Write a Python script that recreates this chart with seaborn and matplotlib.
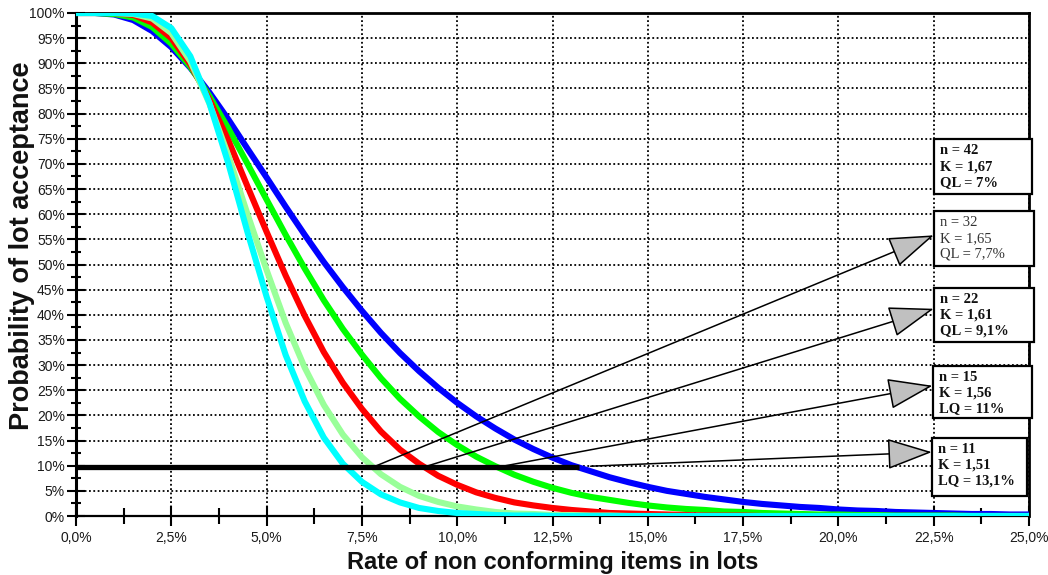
import matplotlib
matplotlib.use("Agg")
import matplotlib.pyplot as plt
from matplotlib.patches import Rectangle, FancyArrowPatch, ArrowStyle
from matplotlib.ticker import MultipleLocator, FuncFormatter
import seaborn as sns
import pandas as pd

# ---------------- data ----------------
rate_pct = [0.0, 0.5, 1.0, 1.5, 2.0, 2.5, 3.0, 3.5, 4.0, 4.5, 5.0,
            5.5, 6.0, 6.5, 7.0, 7.5, 8.0, 8.5, 9.0, 9.5, 10.0,
            10.5, 11.0, 11.5, 12.0, 12.5, 13.0, 13.5, 14.0, 14.5, 15.0,
            15.5, 16.0, 16.5, 17.0, 17.5, 18.0, 18.5, 19.0, 19.5, 20.0,
            20.5, 21.0, 21.5, 22.0, 22.5, 23.0, 23.5, 24.0, 24.5, 25.0]

pa_n11 = [100.0, 100.0, 99.7, 98.6, 96.4, 93.2, 89.1, 84.2, 78.8, 73.0, 67.3,
          61.5, 55.9, 50.5, 45.5, 40.8, 36.4, 32.4, 28.8, 25.5, 22.5,
          19.8, 17.4, 15.2, 13.3, 11.6, 10.1, 8.9, 7.7, 6.7, 5.8,
          5.0, 4.4, 3.8, 3.3, 2.8, 2.4, 2.1, 1.8, 1.6, 1.3,
          1.1, 1.0, 0.8, 0.7, 0.6, 0.5, 0.4, 0.4, 0.3, 0.3]
pa_n15 = [100.0, 100.0, 99.8, 99.1, 97.2, 93.9, 89.3, 83.5, 77.0, 70.0, 62.9,
          55.9, 49.2, 42.9, 37.2, 32.1, 27.4, 23.3, 19.8, 16.7, 14.1,
          11.8, 9.9, 8.2, 6.8, 5.6, 4.6, 3.8, 3.2, 2.6, 2.1,
          1.7, 1.4, 1.2, 0.9, 0.8, 0.6, 0.5, 0.4, 0.3, 0.3,
          0.2, 0.2, 0.1, 0.1, 0.1, 0.1, 0.0, 0.0, 0.0, 0.0]
pa_n22 = [100.0, 100.0, 100.0, 99.6, 98.1, 95.0, 89.8, 82.8, 74.6, 65.5, 56.5,
          47.8, 39.8, 32.6, 26.5, 21.3, 16.8, 13.2, 10.4, 8.0, 6.2,
          4.7, 3.6, 2.7, 2.1, 1.6, 1.2, 0.9, 0.6, 0.5, 0.4,
          0.3, 0.2, 0.1, 0.1, 0.1, 0.0, 0.0, 0.0, 0.0, 0.0,
          0.0, 0.0, 0.0, 0.0, 0.0, 0.0, 0.0, 0.0, 0.0, 0.0]
pa_n32 = [100.0, 100.0, 100.0, 99.8, 98.9, 96.0, 90.4, 82.0, 71.6, 60.0, 48.9,
          38.4, 29.5, 22.1, 16.2, 11.7, 8.3, 5.8, 4.0, 2.8, 1.9,
          1.3, 0.8, 0.5, 0.4, 0.2, 0.2, 0.1, 0.1, 0.0, 0.0,
          0.0, 0.0, 0.0, 0.0, 0.0, 0.0, 0.0, 0.0, 0.0, 0.0,
          0.0, 0.0, 0.0, 0.0, 0.0, 0.0, 0.0, 0.0, 0.0, 0.0]
pa_n42 = [100.0, 100.0, 100.0, 99.9, 99.4, 97.0, 91.4, 82.1, 70.0, 56.4, 43.6,
          32.0, 22.8, 15.6, 10.4, 6.8, 4.3, 2.7, 1.6, 1.0, 0.6,
          0.4, 0.2, 0.1, 0.1, 0.0, 0.0, 0.0, 0.0, 0.0, 0.0,
          0.0, 0.0, 0.0, 0.0, 0.0, 0.0, 0.0, 0.0, 0.0, 0.0,
          0.0, 0.0, 0.0, 0.0, 0.0, 0.0, 0.0, 0.0, 0.0, 0.0]

plans = ["n = 11", "n = 15", "n = 22", "n = 32", "n = 42"]
plan_colors = ["#0000FF", "#00FF00", "#FF0000", "#99FF99", "#00FFFF"]

# 10 % acceptance level line and where each curve crosses it
level_pct = 9.7
level_line_end = 13.2
crossing_rate = [13.5, 11.2, 9.2, 7.85]          # n=11, n=15, n=22, n=32

box_texts = ["n = 42\nK = 1,67\nQL = 7%",
             "n = 32\nK = 1,65\nQL = 7,7%",
             "n = 22\nK = 1,61\nQL = 9,1%",
             "n = 15\nK = 1,56\nLQ = 11%",
             "n = 11\nK = 1,51\nLQ = 13,1%"]

x_label = "Rate of non conforming items in lots"
y_label = "Probability of lot acceptance"

# ---------------- figure ----------------
sns.set_style("white")
plt.rcParams["font.family"] = ["Liberation Sans", "DejaVu Sans"]

df = pd.concat([pd.DataFrame({"rate": rate_pct, "pa": v, "plan": p})
                for p, v in zip(plans, [pa_n11, pa_n15, pa_n22, pa_n32, pa_n42])],
               ignore_index=True)

fig = plt.figure(figsize=(10.48, 5.75), dpi=100)
ax = fig.add_axes([0.0725, 0.1026, 0.9094, 0.8748])

sns.lineplot(data=df, x="rate", y="pa", hue="plan", hue_order=plans,
             palette=dict(zip(plans, plan_colors)), linewidth=4.4,
             legend=False, ax=ax, zorder=3, estimator=None, sort=False)

ax.set_xlim(0, 25)
ax.set_ylim(0, 100)

# grid and ticks
ax.xaxis.set_major_locator(MultipleLocator(2.5))
ax.xaxis.set_minor_locator(MultipleLocator(1.25))
ax.yaxis.set_major_locator(MultipleLocator(5))
ax.yaxis.set_minor_locator(MultipleLocator(2.5))
ax.xaxis.set_major_formatter(FuncFormatter(lambda v, _: f"{v:.1f}%".replace(".", ",")))
ax.yaxis.set_major_formatter(FuncFormatter(lambda v, _: f"{v:.0f}%"))
ax.set_axisbelow(True)
ax.grid(True, which="major", color="black", linestyle=(0, (1, 1.4)), linewidth=1.3)

ax.tick_params(axis="x", which="both", bottom=True, top=False)
ax.tick_params(axis="y", which="both", left=True, right=False)
ax.tick_params(axis="x", which="major", direction="inout", length=15, width=1.5,
               labelsize=10, pad=3, color="black", labelcolor="#1a1a1a")
ax.tick_params(axis="x", which="minor", direction="inout", length=11, width=1.5,
               color="black")
ax.tick_params(axis="y", which="major", direction="inout", length=13, width=1.5,
               labelsize=10, pad=1.5, color="black", labelcolor="#1a1a1a")
ax.tick_params(axis="y", which="minor", direction="inout", length=7, width=1.5,
               color="black")

for side, lw in [("left", 2.2), ("bottom", 1.6), ("top", 2.0), ("right", 2.0)]:
    ax.spines[side].set_visible(True)
    ax.spines[side].set_color("black")
    ax.spines[side].set_linewidth(lw)

ax.set_xlabel(x_label, fontsize=17, fontweight="bold", color="#111111")
ax.set_ylabel(y_label, fontsize=19.5, fontweight="bold", color="#111111")
ax.xaxis.set_label_coords(0.5, -0.093)
ax.xaxis.label.set_verticalalignment("center")
ax.yaxis.set_label_coords(-0.057, 0.537)
ax.yaxis.label.set_verticalalignment("center")

# 10 % level line
ax.plot([0, level_line_end], [level_pct, level_pct], color="black",
        linewidth=3.8, solid_capstyle="butt", zorder=5)

# annotation boxes (positions in data units)
box_geom = [(22.5, 64.1, 2.57, 10.8),
            (22.5, 49.8, 2.62, 10.8),
            (22.5, 34.5, 2.62, 10.9),
            (22.47, 19.5, 2.6, 10.4),
            (22.45, 4.0, 2.5, 11.5)]
box_weight = ["bold", "normal", "bold", "bold", "bold"]
for (bx, by, bw, bh), txt, wt in zip(box_geom, box_texts, box_weight):
    ax.add_patch(Rectangle((bx, by), bw, bh, facecolor="white", edgecolor="black",
                           linewidth=1.6, zorder=8, clip_on=False))
    ax.text(bx + 0.16, by + bh - 1.0, txt, ha="left", va="top", fontsize=10.5,
            fontweight=wt, family=["Liberation Serif", "DejaVu Serif"],
            color="#111111" if wt == "bold" else "#333333",
            linespacing=1.28, zorder=9, clip_on=False)

# arrows from the crossings to the boxes (n=11, n=15, n=22, n=32)
arrow_tips = [(22.45, 12.7), (22.47, 25.9), (22.5, 41.2), (22.5, 55.8)]
head = ArrowStyle("-|>", head_length=2.9, head_width=1.0)
for cx, tip in zip(crossing_rate, arrow_tips):
    ax.add_patch(FancyArrowPatch((cx, level_pct + 0.2), tip, arrowstyle=head,
                                 mutation_scale=10, facecolor="#C0C0C0",
                                 edgecolor="black", linewidth=1.1, shrinkA=0,
                                 shrinkB=0, zorder=7, clip_on=False))

fig.savefig("out.png", dpi=100)
